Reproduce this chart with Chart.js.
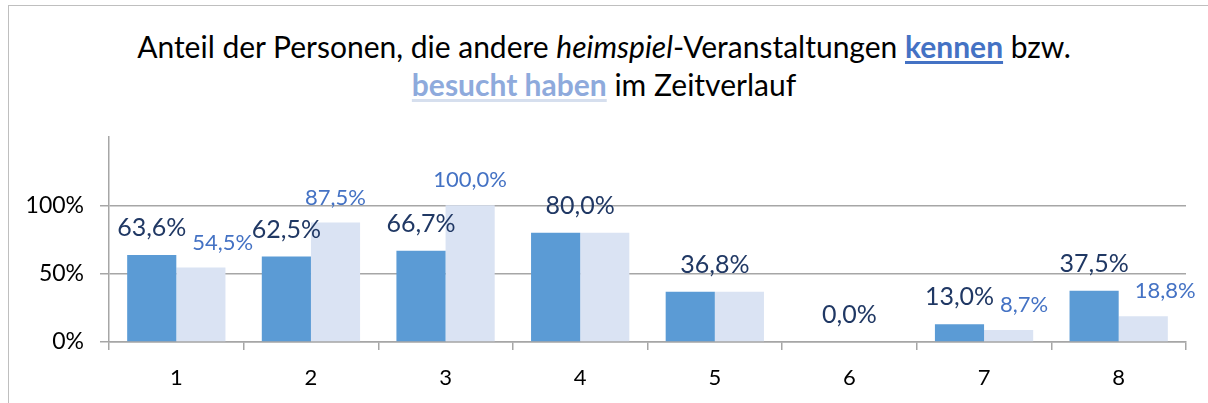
<!DOCTYPE html>
<html>
<head>
<meta charset="utf-8">
<script src="https://cdn.jsdelivr.net/npm/chart.js@4"></script>
<style>
  body { margin: 0; background: #fff; }
  #wrap { position: relative; width: 1208px; height: 403px; overflow: hidden; }
  #frame { position: absolute; left: 8px; top: 5px; width: 1300px; height: 500px; border: 1px solid #bfbfbf; }
  #title { position: absolute; left: 0; top: 27px; width: 1208px; text-align: center;
           font-family: Lato, "Open Sans", sans-serif; font-size: 30px; line-height: 38px; color: #000; }
  #title .k { color: #4472c4; font-weight: bold; text-decoration: underline; text-decoration-thickness: 3px; text-underline-offset: 3px; }
  #title .b { color: #8eaadc; font-weight: bold; text-decoration: underline; text-decoration-color: #d6dfee; text-decoration-thickness: 3px; text-underline-offset: 3px; }
  canvas { position: absolute; left: 0; top: 0; }
</style>
</head>
<body>
<div id="wrap">
  <div id="frame"></div>
  <div id="title">Anteil der Personen, die andere <i>heimspiel</i>-Veranstaltungen <span class="k">kennen</span> bzw.<br><span class="b">besucht haben</span> im Zeitverlauf</div>
  <canvas id="myChart" width="1208" height="403"></canvas>
</div>
<script>
var ctx = document.getElementById('myChart');

// categories (survey waves) and the two series in percent
const labels = ['1', '2', '3', '4', '5', '6', '7', '8'];
const kennen = [63.6, 62.5, 66.7, 80.0, 36.8, 0.0, 13.0, 37.5];
const besucht = [54.5, 87.5, 100.0, 80.0, 36.8, 0.0, 8.7, 18.8];
const yTicks = [0, 50, 100];

const FONT = 'Lato, "Open Sans", sans-serif';

function fmt(v){
    return v.toFixed(1).replace('.', ',') + '%';
}

// draws the value labels above the bars, when both values are equal only one label over the pair
// if the two labels of a pair would collide, the second one is pushed to the right
const valueLabels = {
    id: 'valueLabels',
    afterDatasetsDraw(chart){
        let c = chart.ctx;
        let m0 = chart.getDatasetMeta(0);
        let m1 = chart.getDatasetMeta(1);
        let yScale = chart.scales.y;
        c.save();
        c.textAlign = 'center';
        c.textBaseline = 'middle';
        for (var i = 0; i < labels.length; i++) {
            let a = m0.data[i];
            let b = m1.data[i];
            let y0 = yScale.getPixelForValue(kennen[i]) - 27;
            c.font = '25px ' + FONT;
            c.fillStyle = '#203864';
            if (kennen[i] === besucht[i]) {
                c.fillText(fmt(kennen[i]), (a.x + b.x) / 2, y0);
                continue;
            }
            let t0 = fmt(kennen[i]);
            let right0 = a.x + c.measureText(t0).width / 2;
            c.fillText(t0, a.x, y0);

            let t1 = fmt(besucht[i]);
            let y1 = yScale.getPixelForValue(besucht[i]) - 25;
            c.font = '22px ' + FONT;
            let w1 = c.measureText(t1).width;
            let x1 = b.x;
            if (Math.abs(y1 - y0) < 30 && x1 - w1 / 2 < right0 + 6) {
                x1 = right0 + 6 + w1 / 2;
            }
            c.fillStyle = '#4472c4';
            c.fillText(t1, x1, y1);
        }
        c.restore();
    }
};

var barChart = new Chart(ctx, {
    type: 'bar',
    data: {
        labels: labels,
        datasets: [
            { label: 'kennen', data: kennen, backgroundColor: '#5b9bd5', categoryPercentage: 0.73, barPercentage: 1.0 },
            { label: 'besucht haben', data: besucht, backgroundColor: '#dae3f3', categoryPercentage: 0.73, barPercentage: 1.0 }
        ]
    },
    options: {
        responsive: false,
        animation: false,
        layout: { padding: { left: 0, right: 22, top: 137, bottom: 0 } },
        plugins: {
            legend: { display: false },
            title: { display: false },
            tooltip: { enabled: false }
        },
        scales: {
            x: {
                afterFit: function(scale){ scale.height = 61; },
                grid: { offset: true, drawOnChartArea: false, color: '#a6a6a6', tickLength: 8, lineWidth: 1.5 },
                border: { color: '#a6a6a6', width: 1.5 },
                ticks: { color: '#000', font: { family: FONT, size: 22 }, padding: 15 }
            },
            y: {
                min: 0,
                max: 150,
                afterFit: function(scale){ scale.width = 109; },
                afterBuildTicks: function(scale){
                    scale.ticks = yTicks.concat([150]).map(v => ({ value: v }));
                },
                grid: {
                    color: function(c){ return c.tick && c.tick.value === 150 ? 'rgba(0,0,0,0)' : '#a6a6a6'; },
                    lineWidth: 1.5,
                    tickLength: 9
                },
                border: { color: '#a6a6a6', width: 1.5 },
                ticks: {
                    color: '#000',
                    font: { family: FONT, size: 23 },
                    padding: 16,
                    callback: function(v){ return yTicks.includes(v) ? v + '%' : ''; }
                }
            }
        }
    },
    plugins: [valueLabels]
});
</script>
</body>
</html>
